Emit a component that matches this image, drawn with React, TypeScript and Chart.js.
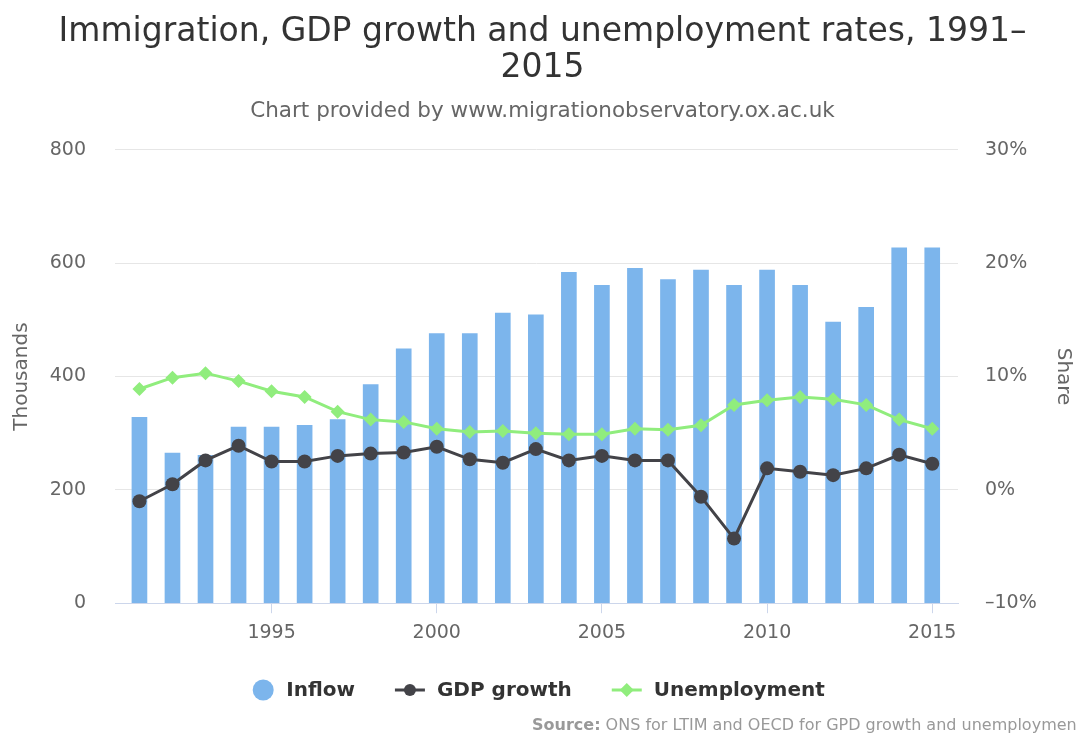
import React, { useEffect, useRef } from "react";
import { Chart, registerables } from "chart.js";

Chart.register(...registerables);

const years = [1991, 1992, 1993, 1994, 1995, 1996, 1997, 1998, 1999, 2000, 2001, 2002, 2003, 2004, 2005, 2006, 2007, 2008, 2009, 2010, 2011, 2012, 2013, 2014, 2015];
const inflow = [328, 265, 261, 311, 311, 314, 324, 386, 449, 476, 476, 512, 509, 584, 561, 591, 571, 588, 561, 588, 561, 496, 522, 627, 627];
const gdpGrowth = [-1.0, 0.5, 2.6, 3.9, 2.5, 2.5, 3.0, 3.2, 3.3, 3.8, 2.7, 2.4, 3.6, 2.6, 3.0, 2.6, 2.6, -0.6, -4.3, 1.9, 1.6, 1.3, 1.9, 3.1, 2.3];
const unemployment = [8.9, 9.9, 10.3, 9.6, 8.7, 8.2, 6.9, 6.2, 6.0, 5.4, 5.1, 5.2, 5.0, 4.9, 4.9, 5.4, 5.3, 5.7, 7.5, 7.9, 8.2, 8.0, 7.5, 6.2, 5.4];
const xTickValues = [1995, 2000, 2005, 2010, 2015];
const seriesNames = ["Inflow", "GDP growth", "Unemployment"];
const seriesColors = ["#7cb5ec", "#434348", "#90ed7d"];
const titleLines = ["Immigration, GDP growth and unemployment rates, 1991–", "2015"];
const subtitleText = "Chart provided by www.migrationobservatory.ox.ac.uk";
const sourceLabel = "Source:";
const sourceText = " ONS for LTIM and OECD for GPD growth and unemployment";

const FONT = "'DejaVu Sans', 'Lucida Grande', sans-serif";

const legendPlugin = {
  id: "customLegend",
  afterDraw(chart: any) {
    const ctx = chart.ctx;
    const y = 690;
    ctx.save();
    ctx.font = `bold 20px ${FONT}`;
    const items = chart.data.datasets.map((ds: any, i: number) => {
      const iconW = i === 0 ? 22 : 30;
      const textW = ctx.measureText(ds.label).width;
      return { ds, iconW, textW, w: iconW + 12 + textW };
    });
    const gap = 40;
    const total = items.reduce((s: number, it: any) => s + it.w, 0) + gap * (items.length - 1);
    let x = chart.width / 2 - total / 2;
    items.forEach((it: any, i: number) => {
      const color = it.ds.borderColor || it.ds.backgroundColor;
      if (i === 0) {
        ctx.fillStyle = it.ds.backgroundColor;
        ctx.beginPath();
        ctx.arc(x + 11, y, 10.5, 0, Math.PI * 2);
        ctx.fill();
      } else {
        ctx.strokeStyle = color;
        ctx.lineWidth = 3;
        ctx.beginPath();
        ctx.moveTo(x, y);
        ctx.lineTo(x + 30, y);
        ctx.stroke();
        ctx.fillStyle = color;
        ctx.beginPath();
        const cx = x + 15;
        if (it.ds.pointStyle === "rectRot") {
          ctx.moveTo(cx, y - 7);
          ctx.lineTo(cx + 7, y);
          ctx.lineTo(cx, y + 7);
          ctx.lineTo(cx - 7, y);
          ctx.closePath();
        } else {
          ctx.arc(cx, y, 6, 0, Math.PI * 2);
        }
        ctx.fill();
      }
      ctx.fillStyle = "#333333";
      ctx.textBaseline = "middle";
      ctx.textAlign = "left";
      ctx.fillText(it.ds.label, x + it.iconW + 12, y + 1);
      x += it.w + gap;
    });
    // source credit
    ctx.textBaseline = "alphabetic";
    ctx.font = `bold 16px ${FONT}`;
    ctx.fillStyle = "#999999";
    const sx = 532;
    const sy = 730;
    ctx.fillText(sourceLabel, sx, sy);
    const lw = ctx.measureText(sourceLabel).width;
    ctx.font = `16px ${FONT}`;
    ctx.fillText(sourceText, sx + lw, sy);
    ctx.restore();
  },
};

export default function App() {
  const ref = useRef<HTMLCanvasElement | null>(null);

  useEffect(() => {
    document.body.style.margin = "0";
    const canvas = ref.current;
    if (!canvas) return;
    Chart.defaults.font.family = FONT;

    const chart = new Chart(canvas, {
      type: "bar",
      data: {
        datasets: [
          {
            type: "bar",
            label: seriesNames[0],
            data: years.map((yr, i) => ({ x: yr, y: inflow[i] })),
            backgroundColor: seriesColors[0],
            borderWidth: 0,
            barThickness: 15,
            yAxisID: "y",
            order: 3,
          },
          {
            type: "line",
            label: seriesNames[1],
            data: years.map((yr, i) => ({ x: yr, y: gdpGrowth[i] })),
            borderColor: seriesColors[1],
            backgroundColor: seriesColors[1],
            borderWidth: 3,
            pointRadius: 7,
            pointBorderWidth: 0,
            pointStyle: "circle",
            tension: 0,
            yAxisID: "y1",
            order: 2,
          },
          {
            type: "line",
            label: seriesNames[2],
            data: years.map((yr, i) => ({ x: yr, y: unemployment[i] })),
            borderColor: seriesColors[2],
            backgroundColor: seriesColors[2],
            borderWidth: 3,
            pointRadius: 7,
            pointBorderWidth: 0,
            pointStyle: "rectRot",
            tension: 0,
            yAxisID: "y1",
            order: 1,
          },
        ] as any,
      },
      options: {
        responsive: false,
        animation: false,
        layout: { padding: { left: 10, right: 2, top: 0, bottom: 84 } },
        plugins: {
          legend: { display: false },
          tooltip: { enabled: false },
          title: {
            display: true,
            text: titleLines,
            color: "#333333",
            font: { size: 33, weight: "normal", lineHeight: 1.07 },
            padding: { top: 15, bottom: 7 },
          },
          subtitle: {
            display: true,
            text: subtitleText,
            color: "#666666",
            font: { size: 21.5, lineHeight: 1.2 },
            padding: { top: 6, bottom: 25.5 },
          },
        },
        scales: {
          x: {
            type: "linear",
            offset: false,
            min: 1990.26,
            max: 2015.78,
            afterBuildTicks: (scale: any) => {
              scale.ticks = xTickValues.map((v) => ({ value: v }));
            },
            ticks: {
              color: "#666666",
              font: { size: 19 },
              padding: 8,
              callback: (v: any) => String(v),
            },
            grid: {
              display: true,
              offset: false,
              drawOnChartArea: false,
              drawTicks: true,
              tickLength: 10,
              color: "#ccd6eb",
            },
            border: { display: true, color: "#ccd6eb", width: 1 },
          },
          y: {
            type: "linear",
            position: "left",
            min: 0,
            max: 800,
            ticks: { stepSize: 200, color: "#666666", font: { size: 19 }, padding: 29 },
            grid: { color: "#e6e6e6", lineWidth: 1, drawTicks: false },
            border: { display: false },
            title: {
              display: true,
              text: "Thousands",
              color: "#666666",
              font: { size: 20 },
              padding: 0,
            },
            afterFit: (scale: any) => {
              scale.width = 105;
            },
          },
          y1: {
            type: "linear",
            position: "right",
            min: -10,
            max: 30,
            ticks: {
              stepSize: 10,
              color: "#666666",
              font: { size: 19 },
              padding: 27,
              callback: (v: any) => `${v < 0 ? "–" + Math.abs(v) : v}%`,
            },
            grid: { display: false, drawOnChartArea: false, drawTicks: false },
            border: { display: false },
            title: {
              display: true,
              text: "Share",
              color: "#666666",
              font: { size: 20 },
              padding: 0,
            },
            afterFit: (scale: any) => {
              scale.width = 117;
            },
          },
        },
      } as any,
      plugins: [legendPlugin],
    });

    return () => chart.destroy();
  }, []);

  return (
    <div style={{ width: 1077, height: 736, background: "#ffffff" }}>
      <canvas ref={ref} width={1077} height={736} style={{ display: "block" }} />
    </div>
  );
}
